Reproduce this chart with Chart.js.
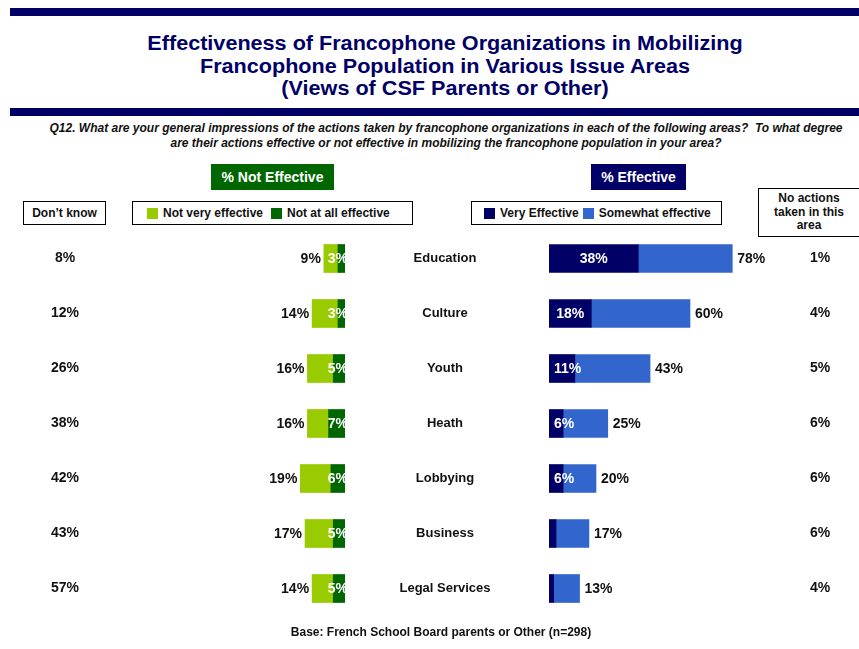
<!DOCTYPE html>
<html>
<head>
<meta charset="utf-8">
<script src="https://cdn.jsdelivr.net/npm/chart.js@4.4.0/dist/chart.umd.min.js"></script>
<style>
  body { margin: 0; background: #fff; font-family: 'Liberation Sans', Arial, sans-serif; }
  #page { position: relative; width: 859px; height: 649px; overflow: hidden; }
  .rule { position: absolute; left: 10px; right: 0; height: 8px; background: #000066; }
  #title { position: absolute; left: 10px; width: 870px; top: 32px; text-align: center; color: #000066;
           font-weight: bold; font-size: 20px; line-height: 22.5px; transform: scaleX(1.08); transform-origin: 435px 0; }
  #question { position: absolute; left: 40px; width: 812px; top: 121px; text-align: center; color: #111;
              font-weight: bold; font-style: italic; font-size: 12px; line-height: 15px; }
  .head { position: absolute; top: 164px; height: 26px; line-height: 26px; color: #fff; font-weight: bold;
          font-size: 14px; text-align: center; }
  .box { position: absolute; border: 1px solid #000; box-sizing: border-box; font-weight: bold; font-size: 12px;
         color: #111; background: #fff; }
  .legend { display: flex; align-items: center; height: 100%; padding-left: 14px; }
  .legend span.sw { display: inline-block; width: 11px; height: 11px; margin-right: 5px; }
  .legend span.lb { margin-right: 8px; }
  #footer { position: absolute; left: 0; width: 882px; top: 625px; text-align: center; font-weight: bold;
            font-size: 12px; color: #111; }
  canvas { position: absolute; left: 0; top: 0; }
</style>
</head>
<body>
<div id="page">
  <div class="rule" style="top:8px"></div>
  <div id="title">Effectiveness of Francophone Organizations in Mobilizing<br>Francophone Population in Various Issue Areas<br>(Views of CSF Parents or Other)</div>
  <div class="rule" style="top:108px"></div>
  <div id="question">Q12. What are your general impressions of the actions taken by francophone organizations in each of the following areas?&nbsp; To what degree<br>are their actions effective or not effective in mobilizing the francophone population in your area?</div>

  <div class="head" style="left:211px;width:123px;background:#006600">% Not Effective</div>
  <div class="head" style="left:591px;width:95px;background:#000066">% Effective</div>

  <div class="box" style="left:23px;top:201px;width:83px;height:24px;line-height:22px;text-align:center">Don’t know</div>
  <div class="box" id="legLeft" style="left:132px;top:201px;width:281px;height:24px"></div>
  <div class="box" id="legRight" style="left:471px;top:201px;width:251px;height:24px"></div>
  <div class="box" style="left:758px;top:188px;width:110px;height:49px;text-align:center;line-height:13.5px;padding:3px 8px 0 0">No actions<br>taken in this<br>area</div>

  <canvas id="leftChart" width="859" height="649"></canvas>
  <canvas id="rightChart" width="859" height="649"></canvas>

  <div id="footer">Base: French School Board parents or Other (n=298)</div>
</div>

<script>
const categories = ['Education', 'Culture', 'Youth', 'Heath', 'Lobbying', 'Business', 'Legal Services'];
const dontKnow = [8, 12, 26, 38, 42, 43, 57];
const notVeryEffective = [6, 11, 11, 9, 13, 12, 9];
const notAtAllEffective = [3, 3, 5, 7, 6, 5, 5];
const veryEffective = [38, 18, 11, 6, 6, 3, 2];
const somewhatEffective = [40, 42, 32, 19, 14, 14, 11];
const noActions = [1, 4, 5, 6, 6, 6, 4];

const LIGHT_GREEN = '#99CC00';
const DARK_GREEN = '#006600';
const NAVY = '#000066';
const BLUE = '#3366CC';
const FONT = "'Liberation Sans', Arial, sans-serif";

function buildLegend(el, items) {
  const wrap = document.createElement('div');
  wrap.className = 'legend';
  items.forEach(function(it) {
    const sw = document.createElement('span');
    sw.className = 'sw';
    sw.style.background = it.color;
    const lb = document.createElement('span');
    lb.className = 'lb';
    lb.textContent = it.label;
    wrap.appendChild(sw);
    wrap.appendChild(lb);
  });
  el.appendChild(wrap);
}
buildLegend(document.getElementById('legLeft'), [
  { label: 'Not very effective', color: LIGHT_GREEN },
  { label: 'Not at all effective', color: DARK_GREEN }
]);
buildLegend(document.getElementById('legRight'), [
  { label: 'Very Effective', color: NAVY },
  { label: 'Somewhat effective', color: BLUE }
]);
document.querySelector('#legRight .legend').style.paddingLeft = '12px';
document.querySelectorAll('#legRight .lb')[0].style.marginRight = '4px';

const baseOptions = {
  indexAxis: 'y',
  responsive: false,
  animation: false,
  events: [],
  plugins: { legend: { display: false }, tooltip: { enabled: false } }
};

// left side: reversed axis so bars grow leftward from the centre
const leftLabels = {
  id: 'leftLabels',
  afterDatasetsDraw(chart) {
    const ctx = chart.ctx;
    const area = chart.chartArea;
    const inner = chart.getDatasetMeta(0).data;
    const outer = chart.getDatasetMeta(1).data;
    ctx.save();
    ctx.font = 'bold 14px ' + FONT;
    ctx.textBaseline = 'middle';
    categories.forEach(function(c, i) {
      const y = inner[i].y;
      ctx.save();
      ctx.beginPath();
      ctx.rect(area.left, area.top, area.right - area.left, area.bottom - area.top);
      ctx.clip();
      ctx.fillStyle = '#fff';
      ctx.textAlign = 'right';
      ctx.fillText(notAtAllEffective[i] + '%', inner[i].base + 3, y + 1);
      ctx.restore();

      ctx.fillStyle = '#111';
      ctx.textAlign = 'right';
      ctx.fillText((notVeryEffective[i] + notAtAllEffective[i]) + '%', outer[i].x - 3, y + 1);
      ctx.textAlign = 'center';
      ctx.fillText(dontKnow[i] + '%', 65, y);
    });
    ctx.restore();
  }
};

new Chart(document.getElementById('leftChart'), {
  type: 'bar',
  data: {
    labels: categories,
    datasets: [
      { label: 'Not at all effective', data: notAtAllEffective, backgroundColor: DARK_GREEN, barThickness: 28 },
      { label: 'Not very effective', data: notVeryEffective, backgroundColor: LIGHT_GREEN, barThickness: 28 }
    ]
  },
  options: Object.assign({}, baseOptions, {
    layout: { padding: { left: 251, right: 514, top: 231, bottom: 33 } },
    scales: {
      x: { display: false, stacked: true, min: 0, max: 40, reverse: true },
      y: { display: false, stacked: true }
    }
  }),
  plugins: [leftLabels]
});

const rightLabels = {
  id: 'rightLabels',
  afterDatasetsDraw(chart) {
    const ctx = chart.ctx;
    const inner = chart.getDatasetMeta(0).data;
    const outer = chart.getDatasetMeta(1).data;
    ctx.save();
    ctx.textBaseline = 'middle';
    categories.forEach(function(c, i) {
      const y = inner[i].y;
      ctx.font = 'bold 14px ' + FONT;
      if (veryEffective[i] >= 5) {
        const txt = veryEffective[i] + '%';
        const w = ctx.measureText(txt).width;
        const cx = Math.max((inner[i].x + inner[i].base) / 2, inner[i].base + 5 + w / 2);
        ctx.fillStyle = '#fff';
        ctx.textAlign = 'center';
        ctx.fillText(txt, cx, y + 1);
      }
      ctx.fillStyle = '#111';
      ctx.textAlign = 'left';
      ctx.fillText((veryEffective[i] + somewhatEffective[i]) + '%', outer[i].x + 5, y + 1);
      ctx.textAlign = 'center';
      ctx.fillText(noActions[i] + '%', 820, y);
      ctx.font = 'bold 13px ' + FONT;
      ctx.fillText(c, 445, y);
    });
    ctx.restore();
  }
};

new Chart(document.getElementById('rightChart'), {
  type: 'bar',
  data: {
    labels: categories,
    datasets: [
      { label: 'Very Effective', data: veryEffective, backgroundColor: NAVY, barThickness: 28 },
      { label: 'Somewhat effective', data: somewhatEffective, backgroundColor: BLUE, barThickness: 28 }
    ]
  },
  options: Object.assign({}, baseOptions, {
    layout: { padding: { left: 549, right: 75, top: 231, bottom: 33 } },
    scales: {
      x: { display: false, stacked: true, min: 0, max: 100 },
      y: { display: false, stacked: true }
    }
  }),
  plugins: [rightLabels]
});
</script>
</body>
</html>
